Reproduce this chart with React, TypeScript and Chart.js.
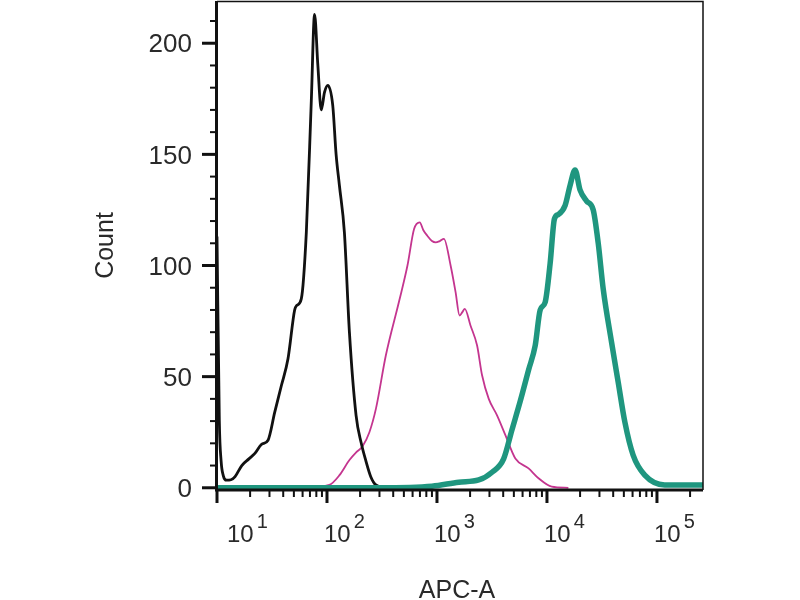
import { useEffect, useRef } from "react";
import Chart from "chart.js/auto";

// unstained / control (black)
const blackX = [
  10, 10.5, 10.9, 11.4, 12.2, 13.4, 14.6, 16.8, 19.5, 22.1, 25.4, 29.1, 33.5,
  38.5, 44.2, 50.8, 53, 58.4, 64.9, 72, 77.1, 82.6, 88.7, 95, 101.7, 112.8,
  121, 129.7, 143.9, 159.9, 183.8, 205, 226, 250, 278.6, 368, 500,
];
const blackY = [
  113, 30, 12, 5.5, 3.4, 3.6, 5, 10, 13, 15.5, 19.5, 21.4, 34, 46, 58, 80, 82,
  85, 115, 174, 213, 190, 170, 178, 181, 172, 150, 136, 115, 70, 32.6, 20, 12,
  5, 1.3, 0, 0,
];

// isotype (magenta)
const pinkX = [
  30, 60, 105, 130, 160, 185, 210, 243, 279, 343, 453, 539, 619, 697, 750, 816,
  900, 973, 1060, 1156, 1330, 1476, 1604, 1700, 1791, 2017, 2316, 2570, 2956,
  3516, 4188, 5157, 6804, 8377, 11045, 15660,
];
const pinkY = [
  0, 0, 1.3, 5.7, 12.5, 16, 18.6, 25, 35.7, 59.6, 84, 100, 116.4, 119.4, 116,
  113.4, 111, 110.4, 111, 112, 100, 88, 77.5, 79, 80.5, 73, 64, 50.6, 40, 32.6,
  23.7, 13.2, 8.7, 4.3, 0.5, 0,
];

// stained sample (teal)
const tealX = [
  10, 298, 901, 1581, 2397, 3165, 4036, 4801, 5718, 6804, 7818, 8674, 9629,
  10687, 11690, 12707, 14615, 16215, 17995, 19970, 22929, 26342, 29242, 32451,
  38619, 44383, 51011, 60706, 77467, 117545, 262144,
];
const tealY = [
  0, 0, 0.7, 2.5, 3.5, 7, 13, 26, 39, 53, 64, 80, 83.5, 101, 121, 123, 127,
  136, 143, 134, 129, 125, 110, 89.5, 65.6, 47.6, 29.7, 14.7, 5.7, 1.3, 1.3,
];

const yTicks = [0, 50, 100, 150, 200];
const xDecades = [10, 100, 1000, 10000, 100000];
const xExponents = ["1", "2", "3", "4", "5"];

const FONT = "'Liberation Sans', Arial, sans-serif";
const TEXT = "#2a2a2a";

const pts = (xs: number[], ys: number[]) => xs.map((x, i) => ({ x, y: ys[i] }));

const axesPlugin = {
  id: "flowAxes",
  afterDatasetsDraw(chart: any) {
    const ctx = chart.ctx;
    const a = chart.chartArea;
    const xs = chart.scales.x;
    const ys = chart.scales.y;

    ctx.save();
    ctx.strokeStyle = "#111";
    ctx.lineCap = "butt";

    // frame
    ctx.lineWidth = 1.5;
    ctx.beginPath();
    ctx.moveTo(a.left, a.top + 0.5);
    ctx.lineTo(a.right, a.top + 0.5);
    ctx.lineTo(a.right, a.bottom);
    ctx.stroke();

    ctx.lineWidth = 3;
    ctx.beginPath();
    ctx.moveTo(a.left - 0.5, a.top);
    ctx.lineTo(a.left - 0.5, a.bottom + 1.5);
    ctx.moveTo(a.left - 2, a.bottom);
    ctx.lineTo(a.right, a.bottom);
    ctx.stroke();

    // y ticks
    for (let v = 0; v <= ys.max; v += 10) {
      const y = ys.getPixelForValue(v);
      const major = v % 50 === 0;
      ctx.lineWidth = major ? 3 : 2;
      ctx.beginPath();
      ctx.moveTo(a.left - (major ? 15 : 7), y);
      ctx.lineTo(a.left, y);
      ctx.stroke();
    }

    // x ticks
    xDecades.forEach((d) => {
      for (let m = 1; m <= 9; m++) {
        const v = d * m;
        if (v > xs.max) break;
        const x = xs.getPixelForValue(v);
        const major = m === 1;
        ctx.lineWidth = major ? 3 : 2;
        ctx.beginPath();
        ctx.moveTo(x, a.bottom);
        ctx.lineTo(x, a.bottom + (major ? 13 : 7));
        ctx.stroke();
      }
    });

    // y labels
    ctx.fillStyle = TEXT;
    ctx.font = `26px ${FONT}`;
    ctx.textAlign = "right";
    ctx.textBaseline = "middle";
    yTicks.forEach((v) => {
      ctx.fillText(String(v), a.left - 25, ys.getPixelForValue(v) + 2);
    });

    // x labels (10 with superscript exponent)
    ctx.textAlign = "left";
    ctx.textBaseline = "alphabetic";
    xDecades.forEach((d, i) => {
      const x = xs.getPixelForValue(d) + (i === 0 ? 10 : -3);
      ctx.font = `24px ${FONT}`;
      ctx.fillText("10", x, a.bottom + 52);
      const w = ctx.measureText("10").width;
      ctx.font = `20px ${FONT}`;
      ctx.fillText(xExponents[i], x + w + 3, a.bottom + 38);
    });

    // axis titles
    ctx.font = `25px ${FONT}`;
    ctx.textAlign = "center";
    ctx.fillText("APC-A", (a.left + a.right) / 2 - 3, 598);

    ctx.save();
    ctx.translate(113, (a.top + a.bottom) / 2);
    ctx.rotate(-Math.PI / 2);
    ctx.textBaseline = "alphabetic";
    ctx.fillText("Count", 0, 0);
    ctx.restore();

    ctx.restore();
  },
};

export default function App() {
  const canvasRef = useRef<HTMLCanvasElement | null>(null);

  useEffect(() => {
    if (!canvasRef.current) return;

    const chart = new Chart(canvasRef.current, {
      type: "line",
      data: {
        datasets: [
          {
            label: "stained",
            data: pts(tealX, tealY),
            borderColor: "#1f967f",
            borderWidth: 5.5,
          },
          {
            label: "control",
            data: pts(blackX, blackY),
            borderColor: "#111111",
            borderWidth: 2.8,
          },
          {
            label: "isotype",
            data: pts(pinkX, pinkY),
            borderColor: "#c4358f",
            borderWidth: 1.8,
          },
        ],
      },
      options: {
        responsive: false,
        animation: false,
        layout: { padding: { left: 217, right: 97, top: 1, bottom: 110 } },
        elements: {
          point: { radius: 0 },
          line: { cubicInterpolationMode: "monotone", fill: false },
        },
        scales: {
          x: { type: "logarithmic", min: 10, max: 262144, display: false },
          y: { type: "linear", min: -1, max: 219, display: false },
        },
        plugins: {
          legend: { display: false },
          tooltip: { enabled: false },
        },
      },
      plugins: [axesPlugin],
    });

    return () => chart.destroy();
  }, []);

  return (
    <div
      style={{
        position: "fixed",
        left: 0,
        top: 0,
        width: 800,
        height: 600,
        background: "#fff",
      }}
    >
      <canvas ref={canvasRef} width={800} height={600} />
    </div>
  );
}
